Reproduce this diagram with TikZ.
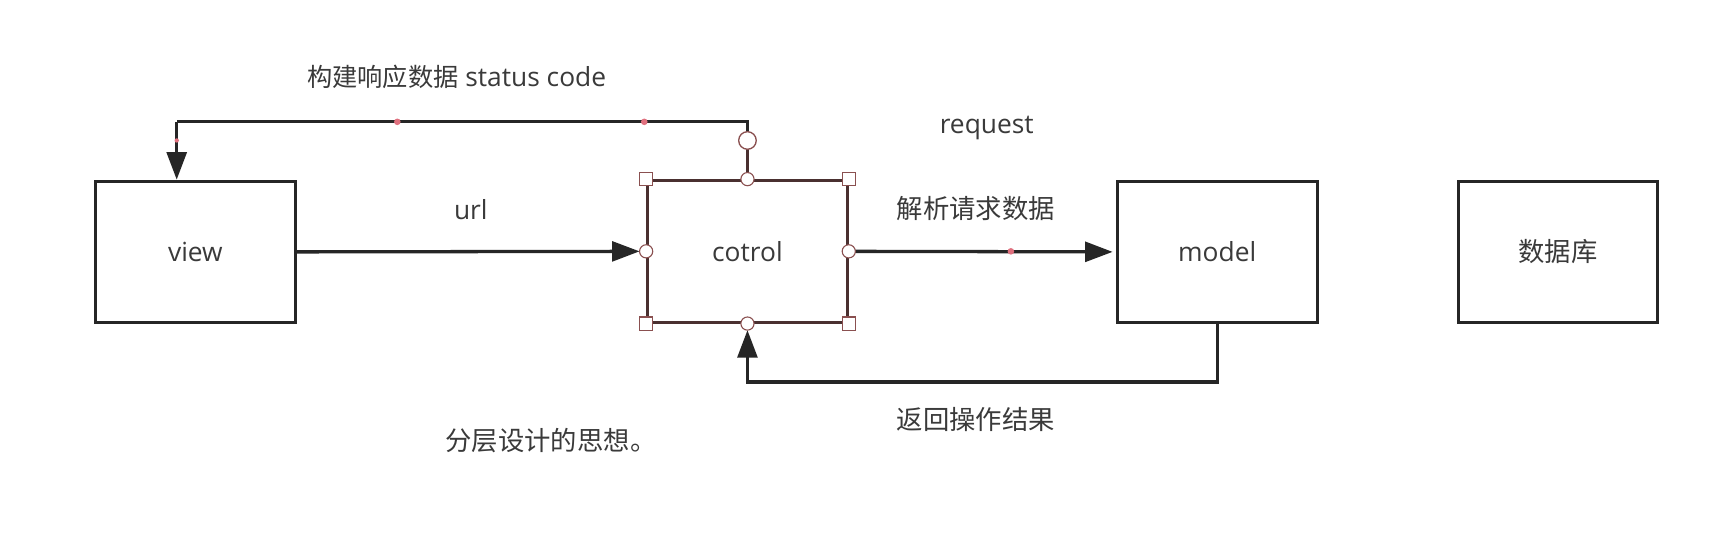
\documentclass[tikz,border=0pt]{standalone}
\usepackage{fontspec}
\setmainfont{Open Sans}
\newfontfamily\cjk{Noto Sans CJK SC}
\usetikzlibrary{arrows.meta}
\definecolor{txt}{HTML}{3A3A3A}
\definecolor{ln}{HTML}{262626}
\definecolor{selb}{HTML}{4A3030}
\definecolor{hdl}{HTML}{8A5050}
\definecolor{rdot}{HTML}{E0707E}
\tikzset{
  box/.style={draw=ln, line width=1.3pt, minimum width=91pt, minimum height=64.5pt, inner sep=0pt, font=\fontsize{12}{14}\selectfont, text=txt},
  lbl/.style={font=\fontsize{12}{14}\selectfont, text=txt, inner sep=0pt},
  clbl/.style={font=\cjk\fontsize{12}{14}\selectfont, text=txt, inner sep=0pt},
  conn/.style={draw=ln, line width=1.5pt},
  arr/.style={conn, -{Triangle[length=12.5pt,width=9pt]}},
  sq/.style={draw=hdl, fill=white, line width=0.5pt, minimum size=6pt, inner sep=0pt},
  ci/.style={draw=hdl, fill=white, line width=0.5pt, circle, minimum size=6pt, inner sep=0pt},
  bigci/.style={draw=hdl, fill=white, line width=0.6pt, circle, minimum size=8pt, inner sep=0pt},
  rd/.style={fill=rdot, circle, minimum size=3pt, inner sep=0pt}
}
\begin{document}
\begin{tikzpicture}[x=0.5pt,y=-0.5pt]
\useasboundingbox (0,0) rectangle (1568,495.6);
\fill[white] (0,0) rectangle (1568,495.6);
% boxes
\node[box] (view) at (178,229.5) {view};
\node[box, draw=selb] (ctrl) at (681,229) {cotrol};
\node[box] (model) at (1109,229.5) {model};
\node[box, font=\cjk\fontsize{12}{14}\selectfont] (db) at (1419.5,229.5) {数据库};
% coordinates
\coordinate (tl) at (161,111);
\coordinate (bl) at (681,348);
% connectors
\draw[arr, shorten >=3pt] (view.east) -- (ctrl.west);
\draw[arr, shorten >=1.5pt] (ctrl.east) -- (model.west);
\draw[conn] (ctrl.north) -- (ctrl.north |- tl) -- (tl);
\draw[arr] (tl) -- (tl |- view.north);
\draw[draw=selb, line width=1.5pt] (ctrl.north) -- (681,128);
\draw[arr, shorten >=3pt] (model.south) -- (model.south |- bl) -- (bl) -- (ctrl.south);
% red dots
\node[rd] (d1) at (362,111) {};
\node[rd] (d2) at (587,111) {};
\node[rd, minimum size=2pt] (d3) at (161,128) {};
\node[rd] (d4) at (921,229) {};
% handles
\node[bigci] (h0) at (681,128) {};
\node[sq] (s1) at (ctrl.north west) {};
\node[sq] (s2) at (ctrl.north east) {};
\node[sq] (s3) at (ctrl.south west) {};
\node[sq] (s4) at (ctrl.south east) {};
\node[ci] (c1) at (ctrl.north) {};
\node[ci] (c2) at (ctrl.south) {};
\node[ci] (c3) at (ctrl.west) {};
\node[ci] (c4) at (ctrl.east) {};
% labels
\node[lbl] (t1) at (416,70) {{\cjk\fontsize{11.5}{14}\selectfont 构建响应数据} status code};
\node[lbl] (t2) at (899,117) {request};
\node[lbl] (t3) at (429,191) {url};
\node[clbl] (t4) at (889,190) {解析请求数据};
\node[clbl] (t5) at (889,382) {返回操作结果};
\node[clbl] (t6) at (502,401) {分层设计的思想。};
\end{tikzpicture}
\end{document}
